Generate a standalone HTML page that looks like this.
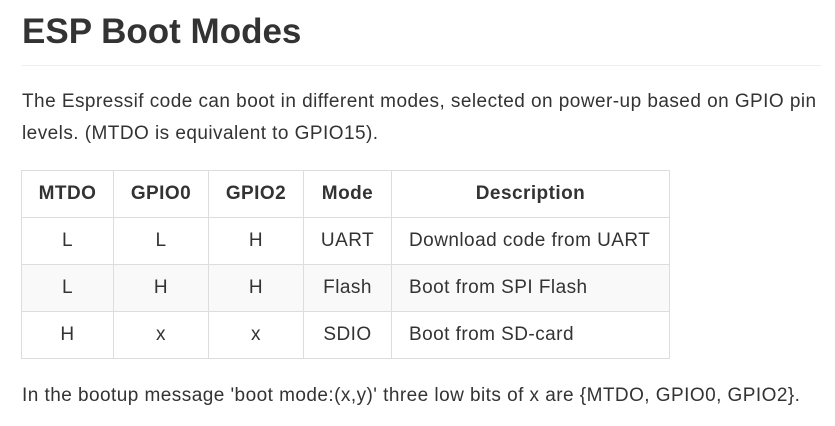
<!DOCTYPE html>
<html><head><style>
body{margin:0;width:835px;height:426px;background:#fff;font-family:"Liberation Sans",sans-serif;color:#333;overflow:hidden}
h1{position:absolute;left:22px;top:12px;margin:0;font-size:35px;font-weight:bold;line-height:40px}
.hr{position:absolute;left:22px;top:65px;width:799px;height:1px;background:#eee}
p{position:absolute;left:22px;margin:0;font-size:19px;letter-spacing:0.45px;line-height:32px;width:800px}
table{position:absolute;left:21px;top:170px;border-collapse:collapse;font-size:19px;letter-spacing:0.45px;table-layout:fixed;width:648px}
td,th{border:1px solid #ddd;height:47px;padding:0;text-align:center;box-sizing:border-box}
th{font-weight:bold}
td.d{text-align:left;padding-left:17px}
tr.g td{background:#f9f9f9}
</style></head><body>
<h1>ESP Boot Modes</h1>
<div class="hr"></div>
<p style="top:86px">The Espressif code can boot in different modes, selected on power-up based on GPIO pin<br>levels. (MTDO is equivalent to GPIO15).</p>
<table>
<colgroup><col style="width:92px"><col style="width:95px"><col style="width:95px"><col style="width:88px"><col style="width:278px"></colgroup>
<tr><th>MTDO</th><th>GPIO0</th><th>GPIO2</th><th>Mode</th><th>Description</th></tr>
<tr><td>L</td><td>L</td><td>H</td><td>UART</td><td class="d">Download code from UART</td></tr>
<tr class="g"><td>L</td><td>H</td><td>H</td><td>Flash</td><td class="d">Boot from SPI Flash</td></tr>
<tr><td>H</td><td>x</td><td>x</td><td>SDIO</td><td class="d">Boot from SD-card</td></tr>
</table>
<p style="top:380px">In the bootup message 'boot mode:(x,y)' three low bits of x are {MTDO, GPIO0, GPIO2}.</p>
</body></html>
